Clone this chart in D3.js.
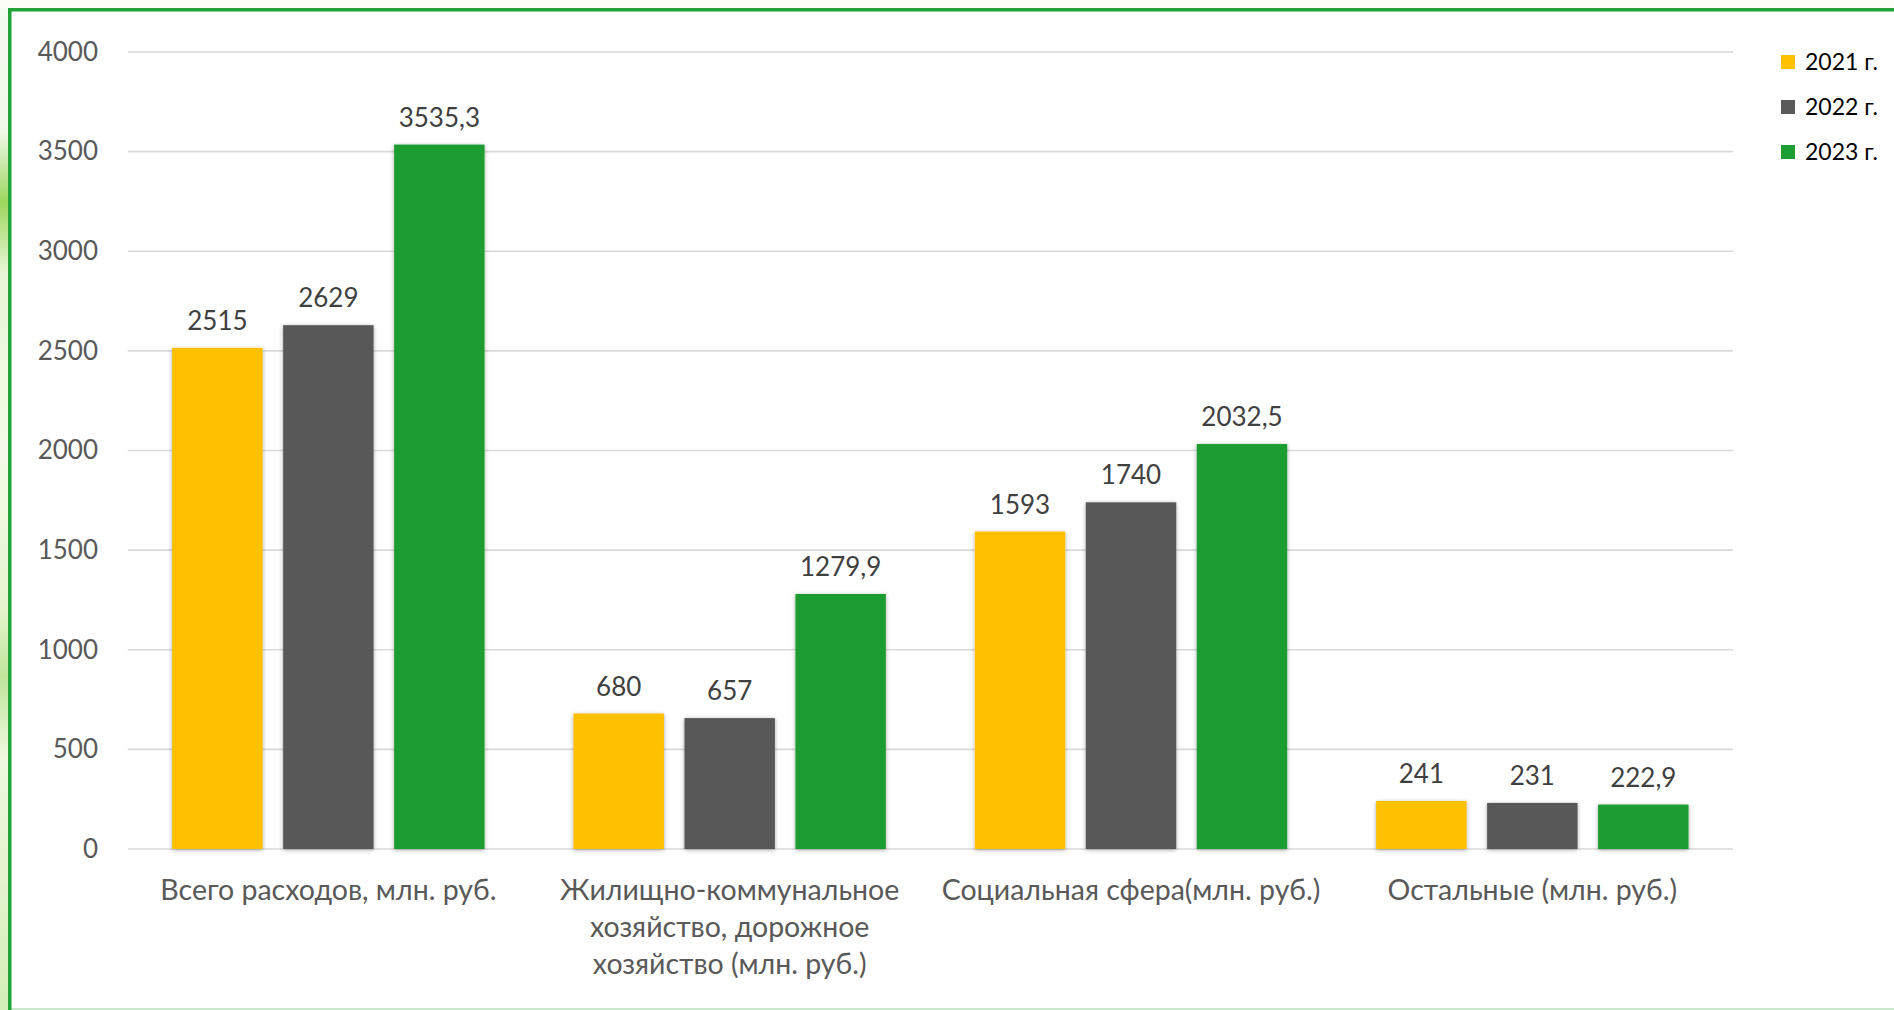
<!DOCTYPE html>
<html>
<head>
<meta charset="utf-8">
<script src="https://cdn.jsdelivr.net/npm/d3@7/dist/d3.min.js"></script>
<style>
  html, body { margin: 0; padding: 0; background: #ffffff; }
  svg { display: block; }
</style>
</head>
<body>
<svg id="chart" width="1894" height="1010"></svg>
<script>
// ---- data ----
const categories = [
  "Всего расходов, млн. руб.",
  "Жилищно-коммунальное хозяйство, дорожное хозяйство (млн. руб.)",
  "Социальная сфера(млн. руб.)",
  "Остальные (млн. руб.)"
];
const seriesNames = ["2021 г.", "2022 г.", "2023 г."];
const values2021 = [2515, 680, 1593, 241];
const values2022 = [2629, 657, 1740, 231];
const values2023 = [3535.3, 1279.9, 2032.5, 222.9];
const valueLabels2021 = ["2515", "680", "1593", "241"];
const valueLabels2022 = ["2629", "657", "1740", "231"];
const valueLabels2023 = ["3535,3", "1279,9", "2032,5", "222,9"];
const yTicks = [0, 500, 1000, 1500, 2000, 2500, 3000, 3500, 4000];
const colors = ["#FFC000", "#595959", "#1C9D32"];

const seriesValues = [values2021, values2022, values2023];
const seriesLabels = [valueLabels2021, valueLabels2022, valueLabels2023];

const FONT = "Lato, 'Open Sans', 'DejaVu Sans', sans-serif";
const svg = d3.select("#chart");
const W = 1894, H = 1010;

// ---- background / frame ----
const defs = svg.append("defs");
const lg = defs.append("linearGradient").attr("id", "leftGlow")
  .attr("x1", 0).attr("y1", 0).attr("x2", 0).attr("y2", 1);
[[0, "#f4fbef"], [0.13, "#f1f9ea"], [0.2, "#9bd65e"], [0.27, "#e8f6d6"],
 [0.45, "#f3fbe8"], [0.6, "#e6f5cf"], [0.67, "#bfe59a"], [0.75, "#eef9df"],
 [0.88, "#e2f3cc"], [1, "#d3efb7"]]
  .forEach(([o, c]) => lg.append("stop").attr("offset", o).attr("stop-color", c));

const sh = defs.append("filter").attr("id", "barShadow")
  .attr("x", "-20%").attr("y", "-5%").attr("width", "140%").attr("height", "115%");
sh.append("feDropShadow").attr("dx", 0).attr("dy", 1).attr("stdDeviation", 2.2)
  .attr("flood-color", "#000").attr("flood-opacity", 0.35);

svg.append("rect").attr("x", 0).attr("y", 0).attr("width", W).attr("height", H).attr("fill", "#ffffff");
svg.append("rect").attr("x", 0).attr("y", 0).attr("width", 9).attr("height", H).attr("fill", "url(#leftGlow)");
svg.append("rect").attr("x", 0).attr("y", 0).attr("width", W).attr("height", 8).attr("fill", "#fdfdf7");
// bottom light line
svg.append("rect").attr("x", 9).attr("y", 1008).attr("width", W - 9).attr("height", 2).attr("fill", "#c9e8cc");
// green frame (left + top)
svg.append("rect").attr("x", 8).attr("y", 8).attr("width", 3.5).attr("height", H - 8).attr("fill", "#1FA236");
svg.append("rect").attr("x", 8).attr("y", 8).attr("width", W - 8).attr("height", 3.5).attr("fill", "#1FA236");

// ---- scales ----
const plotLeft = 127.7, plotRight = 1733, plotTop = 52, plotBottom = 849;
const x0 = d3.scaleBand().domain(categories).range([plotLeft, plotRight]).paddingInner(0).paddingOuter(0);
const groupInner = x0.bandwidth() * (259 / 332.75);
const groupOffset = (x0.bandwidth() - groupInner) / 2;
const x1 = d3.scaleBand().domain(seriesNames).range([0, groupInner]).paddingInner(0.185).paddingOuter(0);
const y = d3.scaleLinear().domain([0, 4000]).range([plotBottom, plotTop]);

// ---- gridlines ----
svg.append("g").selectAll("line").data(yTicks).join("line")
  .attr("x1", plotLeft).attr("x2", plotRight)
  .attr("y1", d => y(d)).attr("y2", d => y(d))
  .attr("stroke", "#d9d9d9").attr("stroke-width", 1.6);

// ---- y axis labels ----
const yAxis = d3.axisLeft(y).tickValues(yTicks).tickSize(0).tickPadding(0).tickFormat(d3.format("d"));
const yg = svg.append("g").attr("transform", "translate(98,0)").call(yAxis);
yg.select(".domain").remove();
yg.selectAll("text").attr("font-family", FONT).attr("font-size", 26).attr("fill", "#595959");

// ---- bars ----
const groups = svg.append("g").selectAll("g").data(categories).join("g")
  .attr("transform", d => `translate(${x0(d) + groupOffset},0)`);

groups.each(function (cat, ci) {
  const g = d3.select(this);
  seriesNames.forEach((s, si) => {
    const v = seriesValues[si][ci];
    g.append("rect")
      .attr("x", x1(s)).attr("width", x1.bandwidth())
      .attr("y", y(v)).attr("height", y(0) - y(v))
      .attr("fill", colors[si]).attr("filter", "url(#barShadow)");
  });
  seriesNames.forEach((s, si) => {
    const v = seriesValues[si][ci];
    g.append("text")
      .attr("x", x1(s) + x1.bandwidth() / 2).attr("y", y(v) - 18)
      .attr("text-anchor", "middle")
      .attr("font-family", FONT).attr("font-size", 26).attr("fill", "#404040")
      .text(seriesLabels[si][ci]);
  });
});

// ---- category labels (wrapped to band width) ----
const catG = svg.append("g");
categories.forEach(cat => {
  const cx = x0(cat) + x0.bandwidth() / 2;
  const t = catG.append("text").attr("x", cx).attr("y", 900)
    .attr("text-anchor", "middle").attr("font-family", FONT)
    .attr("font-size", 28.5).attr("fill", "#595959");
  const words = cat.split(" ");
  const maxW = 400;
  let line = [];
  let tspan = t.append("tspan").attr("x", cx).attr("dy", 0);
  words.forEach(w => {
    line.push(w);
    tspan.text(line.join(" "));
    if (tspan.node().getComputedTextLength() > maxW && line.length > 1) {
      line.pop();
      tspan.text(line.join(" "));
      line = [w];
      tspan = t.append("tspan").attr("x", cx).attr("dy", 37).text(w);
    }
  });
});

// ---- legend ----
const legendY = [62, 107, 152];
const lgG = svg.append("g");
seriesNames.forEach((s, i) => {
  lgG.append("rect").attr("x", 1781).attr("y", legendY[i] - 7).attr("width", 14).attr("height", 14).attr("fill", colors[i]);
  lgG.append("text").attr("x", 1805).attr("y", legendY[i] + 8)
    .attr("font-family", FONT).attr("font-size", 23).attr("fill", "#000000")
    .text(s);
});
</script>
</body>
</html>
